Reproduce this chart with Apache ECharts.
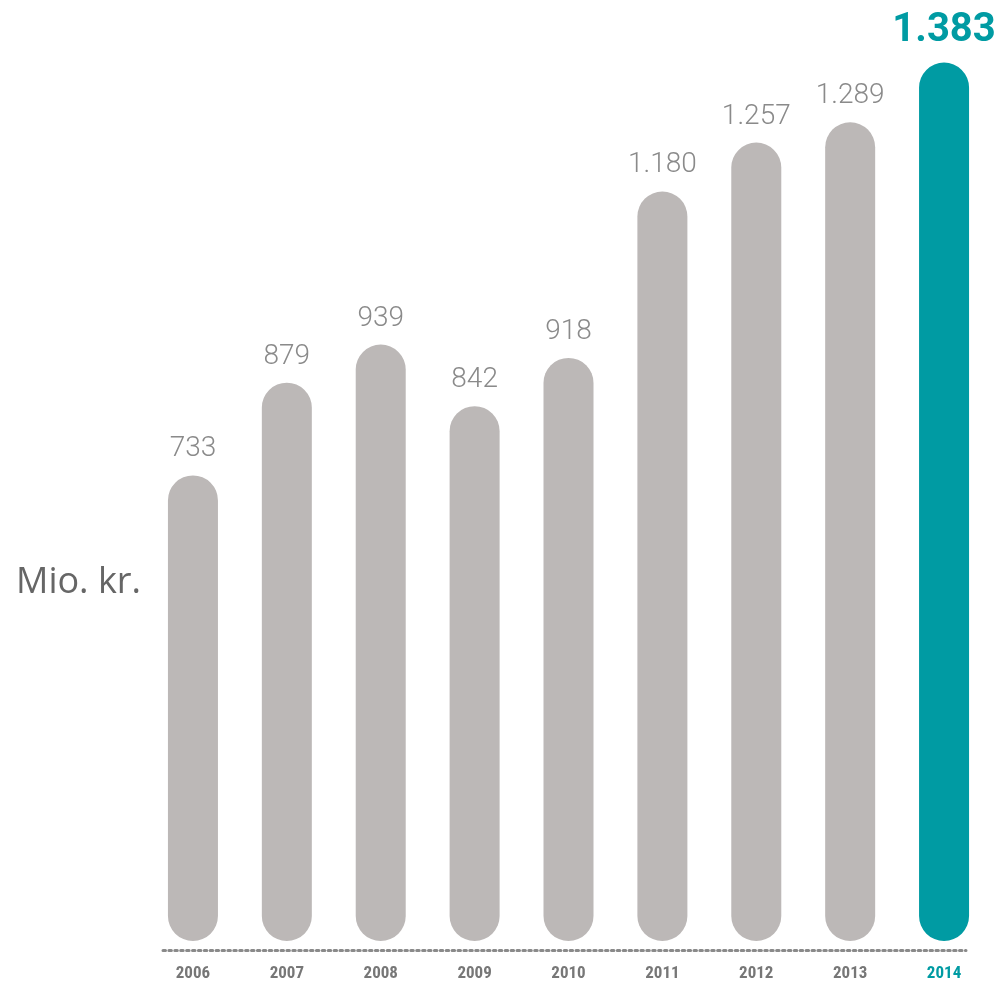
<!DOCTYPE html>
<html>
<head>
<meta charset="utf-8">
<script src="https://cdn.jsdelivr.net/npm/echarts@6/dist/echarts.min.js"></script>
<style>
  html, body { margin: 0; padding: 0; background: #fff; }
  #chart { width: 1002px; height: 987px; }
</style>
</head>
<body>
<div id="chart"></div>
<script>
const years = ["2006", "2007", "2008", "2009", "2010", "2011", "2012", "2013", "2014"];
const values = [733, 879, 939, 842, 918, 1180, 1257, 1289, 1383];
const unitLabel = "Mio. kr.";

const gray = "#bcb8b7";
const teal = "#009ba3";
const last = values.length - 1;

// 1180 -> "1.180"
function fmt(v) {
  return String(v).replace(/\B(?=(\d{3})+(?!\d))/g, ".");
}

let myChart = echarts.init(document.getElementById("chart"));
let option = {
  animation: false,
  title: {
    text: unitLabel,
    left: 11,
    top: 560,
    textStyle: {
      color: "#666666",
      fontSize: 36,
      fontWeight: "normal",
      fontFamily: "Open Sans",
    },
  },
  grid: [
    { left: 146, right: 11, top: 20, bottom: 46 },
    { left: 163, right: 36, top: 20, bottom: 37 },
  ],
  xAxis: [
    {
      type: "category",
      gridIndex: 0,
      data: years.map((y, i) => ({
        value: y,
        textStyle: { color: i === last ? teal : "#777777" },
      })),
      axisLine: { show: false },
      axisTick: { show: false },
      axisLabel: {
        margin: 24,
        fontSize: 17,
        fontWeight: "bold",
        fontFamily: "Roboto Condensed, Roboto, sans-serif",
      },
    },
    {
      type: "category",
      gridIndex: 1,
      data: [],
      axisLine: {
        lineStyle: { color: "#8a8a8a", width: 3, type: [2.5, 3.4] },
      },
      axisTick: { show: false },
      axisLabel: { show: false },
    },
  ],
  yAxis: [
    { type: "value", gridIndex: 0, min: 0, max: 1450, show: false },
    { type: "value", gridIndex: 1, min: 0, max: 1450, show: false },
  ],
  series: [
    {
      type: "bar",
      barWidth: 50,
      data: values.map((v, i) => ({
        value: v,
        itemStyle: { color: i === last ? teal : gray },
        label: i === last
          ? { color: teal, fontSize: 40, fontWeight: "bold", fontFamily: "Roboto", distance: 12 }
          : {},
      })),
      itemStyle: { borderRadius: 25 },
      label: {
        show: true,
        position: "top",
        distance: 12,
        color: "#8a8a8a",
        fontSize: 28,
        fontWeight: 300,
        fontFamily: "Roboto",
        formatter: (p) => fmt(p.value),
      },
    },
  ],
};
myChart.setOption(option);
</script>
</body>
</html>
